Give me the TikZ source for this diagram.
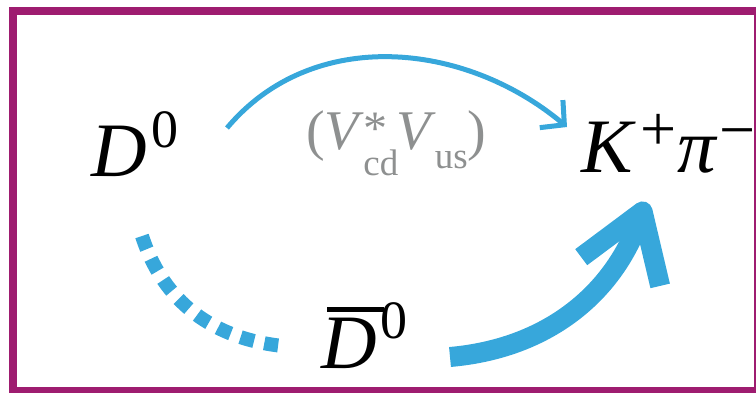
\documentclass[tikz,border=0pt]{standalone}
\usepackage{fontspec}
\setmainfont{Liberation Serif}
\usetikzlibrary{arrows.meta}
\definecolor{framepurple}{HTML}{9E1C70}
\definecolor{arrowblue}{HTML}{37A7DB}
\definecolor{labelgray}{HTML}{8E9090}
\newcommand\bigsize{\fontsize{77}{77}\selectfont}
\newcommand\supix[2][29pt]{\raisebox{#1}{\fontsize{54}{54}\selectfont #2}}
\newcommand\chargeix[2][22pt]{\raisebox{#1}{\fontsize{64}{64}\selectfont #2}}
\newcommand\subix[2][20pt]{\raisebox{-#1}{\fontsize{37}{37}\selectfont #2}}
\newcommand\barred[1]{\makebox[0pt][l]{\hspace{6pt}\rule[56pt]{57pt}{5pt}}#1}
\tikzset{
  particle/.style={inner sep=0pt,anchor=base west,font=\bigsize},
  ckmlabel/.style={inner sep=0pt,anchor=base west,text=labelgray,
                   font=\fontsize{56}{56}\selectfont},
  thinarr/.style={-{Straight Barb[length=17pt,width=36pt]},line width=5pt,
                  draw=arrowblue},
  thickarr/.style={-{Straight Barb[length=64pt,width=84pt,line join=round]},
                   line width=20pt,draw=arrowblue},
  dotarr/.style={line width=14pt,draw=arrowblue,dash pattern=on 14pt off 10.5pt},
  frame/.style={draw=framepurple,line width=8pt}
}
\begin{document}
\begin{tikzpicture}[x=1pt,y=1pt]
  \path[use as bounding box] (0,0) rectangle (756,392);
  \draw[frame] (13,381) rectangle (758,1);
  \node[particle] (d0) at (91,216) {\textit{D}\kern5pt\supix{0}};
  \node[particle] (kpi) at (581,220)
    {\textit{K}\kern5pt\chargeix{+}\kern1pt\textit{π}\kern1pt\chargeix[21pt]{−}};
  \node[particle] (d0bar) at (321,24) {\barred{\textit{D}}\kern4pt\supix[30pt]{0}};
  \node[ckmlabel] (ckm) at (306,243)
    {(\textit{V}\kern-1pt\makebox[0pt][l]{\raisebox{5pt}{\fontsize{48}{48}\selectfont *}}%
     \subix[26pt]{cd}\kern-2pt\textit{V}\kern-1pt\subix[19pt]{us})};
  \draw[thinarr] ([shift={(136,48)}]d0.base west)
    to[out=50,in=140] ([shift={(-14,45)}]kpi.base west);
  \draw[dotarr] ([shift={(51,-60)}]d0.base west)
    to[out=-72,in=174] ([shift={(-38,22)}]d0bar.base west);
  \draw[thickarr] ([shift={(129,11)}]d0bar.base west)
    to[out=5,in=250] ([shift={(65,-30)}]kpi.base west);
\end{tikzpicture}
\end{document}
